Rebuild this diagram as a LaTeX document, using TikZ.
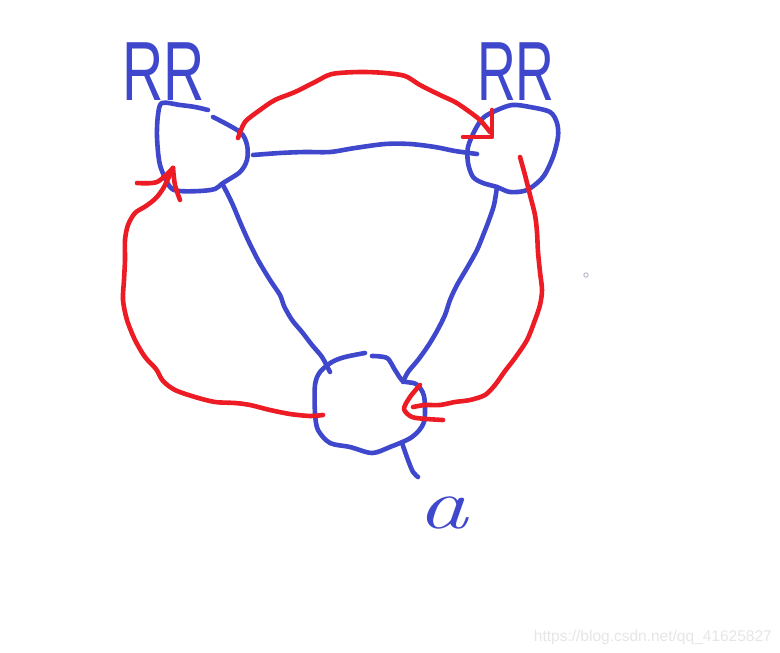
\documentclass[tikz,border=0pt]{standalone}
\usepackage{fontspec}
\newfontfamily\handfont{Liberation Sans}
\usetikzlibrary{calc}
\definecolor{pblue}{RGB}{63,72,204}
\definecolor{pred}{RGB}{237,28,36}
\definecolor{wmark}{RGB}{230,230,230}
\definecolor{dotc}{RGB}{175,175,195}
\begin{document}
\begin{tikzpicture}[x=1pt,y=-1pt,
  pen/.style={line width=4.6pt,line cap=round,line join=round},
  bluepen/.style={pen,draw=pblue},
  redpen/.style={pen,draw=pred},
  hub/.style={circle,minimum size=90pt,inner sep=0pt},
  handlabel/.style={anchor=base,text=pblue,inner sep=0pt,font=\handfont\fontsize{84}{84}\selectfont}]
\fill[white] (0,0) rectangle (780,653);
\useasboundingbox (0,0) rectangle (780,653);

% hubs (invisible reference nodes)
\node[hub] (tl) at (202,148) {};
\node[hub] (tr) at (513,148) {};
\node[hub,minimum size=100pt] (b) at (370,403) {};

% hand-drawn outlines of the hubs
\draw[bluepen] plot[smooth] coordinates {(213,117) (240,132) (247,145) (247,160) (240,172) (223,183) (215,189) (200,191) (180,191) (170,187) (160,165) (157,137) (158,115) (162,103) (180,105) (195,107) (208,110)};
\draw[bluepen] plot[smooth cycle] coordinates {(512,105) (530,107) (550,112) (557,123) (558,137) (553,157) (543,177) (527,190) (510,192) (497,187) (483,183) (473,177) (468,163) (468,147) (475,130) (483,118) (495,111)};
\draw[bluepen] plot[smooth] coordinates {(372,356) (387,358) (395,370) (403,381) (416,384) (424,396) (424,422) (412,437) (390,447) (372,453) (350,447) (330,443) (318,430) (315,413) (315,385) (320,372) (332,362) (345,357) (365,353)};

% labels
\node[handlabel] (rr1) at (164,100) {\scalebox{0.68}[1]{RR}};
\node[handlabel] (rr2) at (516,100) {\scalebox{0.64}[1]{RR}};
\node[anchor=base,text=pblue,inner sep=0pt,font=\fontsize{72}{72}\selectfont\itshape] (lbl) at (443,528) {\scalebox{1.4}[1]{a}};

% connector end points
\coordinate (tlA) at ($(tl)+(51,7)$);
\coordinate (trA) at ($(tr)+(-36,6)$);
\coordinate (tlB) at ($(tl)+(21,37)$);
\coordinate (bB) at ($(b)+(-40,-31)$);
\coordinate (trC) at ($(tr)+(-16,39)$);
\coordinate (bC) at ($(b)+(33,-21)$);
\coordinate (bT) at ($(b)+(32,40)$);
\coordinate (rTs) at ($(tl)+(36,-10)$);
\coordinate (rTe) at ($(tr)+(-23,-16)$);
\coordinate (rTtip) at ($(tr)+(-21,-11)$);
\coordinate (rRs) at ($(tr)+(7,9)$);
\coordinate (rRe) at ($(b)+(43,4)$);
\coordinate (rRtip) at ($(b)+(34,6)$);
\coordinate (rLs) at ($(b)+(-47,12)$);
\coordinate (rLe) at ($(tl)+(-29,20)$);

% blue connectors
\draw[bluepen] plot[smooth] coordinates {(tlA) (280,153) (305,152) (330,152) (355,148) (385,144) (410,144) (435,147) (455,151) (trA)};
\draw[bluepen] plot[smooth] coordinates {(tlB) (232,203) (240,222) (248,240) (258,260) (270,280) (280,295) (284,306) (292,320) (302,332) (312,345) (322,357) (bB)};
\draw[bluepen] plot[smooth] coordinates {(trC) (494,205) (489,220) (484,233) (477,250) (467,268) (457,285) (450,300) (445,315) (437,331) (428,346) (418,360) (408,372) (bC)};
\draw[bluepen] plot[smooth] coordinates {(bT) (408,460) (413,472) (418,477)};

% red arrows
\draw[redpen] plot[smooth] coordinates {(rTs) (245,122) (260,110) (275,100) (295,92) (315,82) (332,74) (360,72) (385,73) (405,76) (420,85) (440,95) (455,102) (467,110) (480,120) (rTe)};
\draw[redpen] (492,110) -- (rTtip) -- (463,137);

\draw[redpen] plot[smooth] coordinates {(rRs) (525,175) (530,195) (535,215) (537,232) (538,252) (540,272) (542,290) (540,305) (535,320) (527,340) (515,358) (505,371) (495,385) (485,395) (470,400) (455,402) (440,405) (425,405) (rRe)};
\draw[redpen] plot[smooth] coordinates {(420,385) (410,397) (rRtip) (412,417) (427,419) (443,420)};

\draw[redpen] plot[smooth] coordinates {(rLs) (310,416) (290,414) (270,410) (250,405) (235,403) (215,402) (195,397) (175,390) (163,381) (156,369) (145,357) (135,340) (127,320) (123,300) (124,280) (125,260) (125,240) (128,225) (135,213) (146,206) (156,198) (164,187) (rLe)};
\draw[redpen] plot[smooth] coordinates {(137,183) (157,182) (rLe)};
\draw[redpen] plot[smooth] coordinates {(rLe) (175,185) (180,200)};

% stray dot and watermark
\draw[dotc,line width=0.8pt] (586,275) circle (2.2);
\node[anchor=base east,text=wmark,inner sep=0pt,font=\handfont\fontsize{15.5}{15.5}\selectfont] (wm) at (772,641) {https://blog.csdn.net/qq\_41625827};
\end{tikzpicture}
\end{document}
